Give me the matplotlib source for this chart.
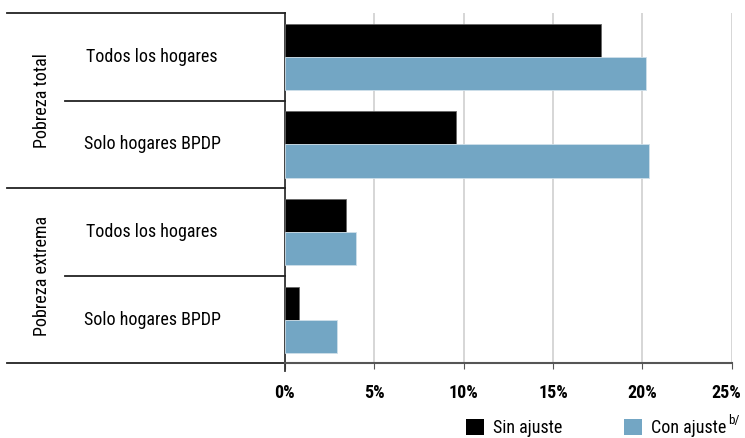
import matplotlib
matplotlib.use("Agg")
import matplotlib.pyplot as plt
import matplotlib.transforms as mtransforms
from matplotlib import font_manager
from matplotlib.patches import Patch

# pick a narrow font if one is installed
names = set(f.name for f in font_manager.fontManager.ttflist)
family = "DejaVu Sans"
for cand in ["Liberation Sans Narrow", "Roboto Condensed", "Open Sans Condensed", "Noto Sans"]:
    if cand in names:
        family = cand
        break
plt.rcParams["font.family"] = [family, "DejaVu Sans"]

# data
categories = ["Todos los hogares", "Solo hogares BPDP", "Todos los hogares", "Solo hogares BPDP"]
groups = ["Pobreza total", "Pobreza extrema"]
sin_ajuste = [17.7, 9.6, 3.4, 0.8]
con_ajuste = [20.2, 20.4, 4.0, 2.9]
xticks = [0, 5, 10, 15, 20, 25]

black = "#000000"
blue = "#73A6C4"

fig = plt.figure(figsize=(7.45, 4.38), dpi=100)
ax = fig.add_axes([0.3822, 0.1701, 0.6, 0.8002])

ypos = list(range(len(categories)))
h = 0.377
ax.barh([y - 0.189 for y in ypos], sin_ajuste, height=h, color=black,
        edgecolor="#666666", linewidth=0.6, zorder=3)
ax.barh([y + 0.189 for y in ypos], con_ajuste, height=h, color=blue,
        edgecolor="#cfe0ea", linewidth=0.6, zorder=3)

ax.set_xlim(0, 25)
ax.set_ylim(3.5, -0.5)
ax.set_xticks(xticks)
ax.set_xticklabels([f"{t}%" for t in xticks], fontsize=13, fontweight="bold")
ax.set_yticks([])
ax.grid(axis="x", color="#d0d0d0", linewidth=1.2, zorder=0)
ax.tick_params(axis="x", length=4, color="#555555", pad=11)

# keep the last label inside the figure
last = ax.get_xticklabels()[-1]
last.set_transform(last.get_transform() +
                   mtransforms.ScaledTranslation(-5 / 100, 0, fig.dpi_scale_trans))

for s in ["top", "right"]:
    ax.spines[s].set_visible(False)
ax.spines["bottom"].set_color("#555555")
ax.spines["bottom"].set_linewidth(1.5)
ax.spines["left"].set_visible(False)

tr = ax.get_yaxis_transform()
# left vertical line, running slightly below the axis
ax.plot([0, 0], [1, -0.02], transform=ax.transAxes, color="#333333",
        linewidth=1.3, clip_on=False)
# group borders and sub-borders
for y in [-0.5, 1.5, 3.5]:
    ax.plot([-0.621, 0], [y, y], transform=tr, color="#222222",
            linewidth=1.3, clip_on=False)
for y in [0.5, 2.5]:
    ax.plot([-0.4915, 0], [y, y], transform=tr, color="#222222",
            linewidth=1.3, clip_on=False)

for y, lab in zip(ypos, categories):
    ax.text(-0.297, y, lab, transform=tr, ha="center", va="center", fontsize=13)
for i, g in enumerate(groups):
    ax.text(-0.544, 2 * i + 0.5, g, transform=tr, ha="center", va="center",
            rotation=90, fontsize=13)

handles = [Patch(facecolor=black, label="Sin ajuste"),
           Patch(facecolor=blue, label="Con ajuste")]
leg = fig.legend(handles=handles, loc="center", bbox_to_anchor=(0.80, 0.022),
                 ncol=2, frameon=False, fontsize=13, handlelength=1.0,
                 handleheight=1.0, columnspacing=3.4, handletextpad=0.5)

fig.canvas.draw()
bb = leg.get_texts()[1].get_window_extent()
fx, fy = fig.transFigure.inverted().transform((bb.x1, bb.y1))
fig.text(fx + 0.003, fy + 0.012, "b/", fontsize=9.5, va="top", ha="left")

fig.savefig("out.png", dpi=100)
